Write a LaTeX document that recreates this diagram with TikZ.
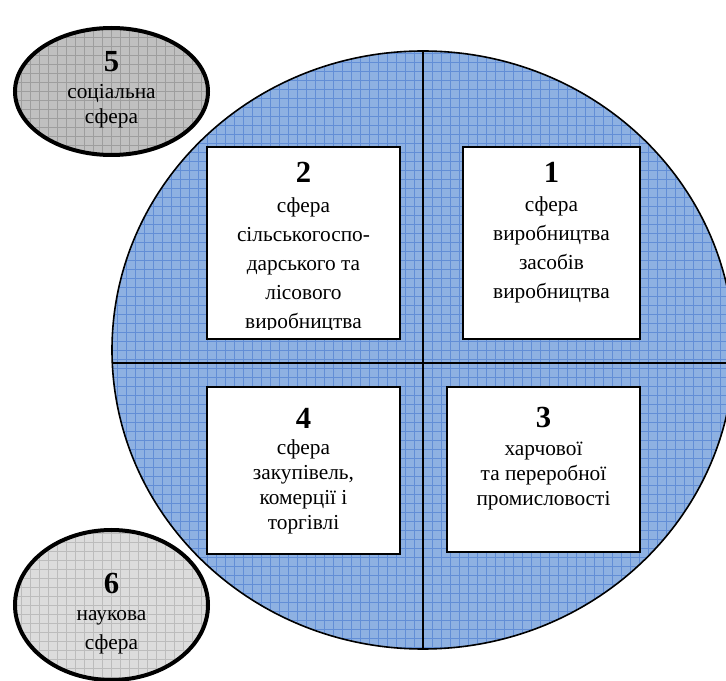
\documentclass[tikz,border=0pt]{standalone}
\usepackage{fontspec}
\setmainfont{Liberation Serif}
\usetikzlibrary{shapes.geometric}
\definecolor{sphfill}{RGB}{142,177,226}
\definecolor{sphgrid}{RGB}{98,142,214}
\definecolor{socfill}{RGB}{192,192,192}
\definecolor{socgrid}{RGB}{158,158,158}
\definecolor{scifill}{RGB}{220,220,220}
\definecolor{scigrid}{RGB}{188,188,188}
\tikzset{
  gridfill/.style={path picture={\draw[#1, line width=0.5pt, step=6.75pt]
      (path picture bounding box.south west) grid (path picture bounding box.north east);}},
  oval/.style={ellipse, draw, inner sep=0pt},
  sector/.style={rectangle, draw, line width=1.5pt, fill=white, inner sep=0pt},
  divline/.style={line width=1.2pt},
  numlbl/.style={font=\fontsize{23}{23}\selectfont\bfseries, inner sep=0pt},
  txt/.style={align=center, inner sep=0pt, font=\fontsize{16}{21.75}\selectfont},
  txtnarrow/.style={txt, font=\fontsize{16}{18.75}\selectfont}
}
\begin{document}
\begin{tikzpicture}[x=0.75pt, y=-0.75pt]
  \useasboundingbox (0,0) rectangle (726,681);
  \clip (0,0) rectangle (726,681);
  % big sphere, cut into four
  \node[oval, line width=1.2pt, fill=sphfill, gridfill=sphgrid,
        minimum width=466.5pt, minimum height=448.5pt] (sph) at (423,350) {};
  \draw[divline] (sph.north) -- (sph.south);
  \coordinate (hl) at (112.3,363);
  \coordinate (hr) at (733.7,363);
  \draw[divline] (hl) -- (hr);
  % outer spheres
  \node[oval, line width=3pt, fill=socfill, gridfill=socgrid,
        minimum width=144.75pt, minimum height=95.25pt] (e5) at (111.5,91.5) {};
  \node[oval, line width=3pt, fill=scifill, gridfill=scigrid,
        minimum width=144.75pt, minimum height=112.5pt] (e6) at (111.5,605) {};
  % the four boxes
  \node[sector, minimum width=132.75pt, minimum height=144pt] (b1) at (551.5,243) {};
  \node[sector, minimum width=144.75pt, minimum height=144pt] (b2) at (303.5,243) {};
  \node[sector, minimum width=144.75pt, minimum height=123.75pt] (b3) at (543.5,469.5) {};
  \node[sector, minimum width=144.75pt, minimum height=125.25pt] (b4) at (303.5,470.5) {};
  % labels
  \node[numlbl] (n1) at (551.5,172) {1};
  \node[txt] (t1) at (551.5,249.5) {сфера\\виробництва\\засобів\\виробництва};
  \node[numlbl] (n2) at (303.5,172) {2};
  \begin{scope}
    \clip (207,147) rectangle (400,330);
    \node[txt] (t2) at (303.5,265) {сфера\\сільськогоспо-\\дарського та\\лісового\\виробництва};
  \end{scope}
  \node[numlbl] (n3) at (543.5,417) {3};
  \node[txtnarrow] (t3) at (543.5,476) {харчової\\та переробної\\промисловості};
  \node[numlbl] (n4) at (303.5,418) {4};
  \node[txtnarrow] (t4) at (303.5,487) {сфера\\закупівель,\\комерції і\\торгівлі};
  \node[numlbl] (n5) at (111.5,62) {5};
  \begin{scope}
    \clip (15,28) rectangle (208,128);
    \node[txtnarrow] (t5) at (111.5,106.5) {соціальна\\сфера};
  \end{scope}
  \node[numlbl] (n6) at (111.5,583) {6};
  \node[txt] (t6) at (111.5,632) {наукова\\сфера};
\end{tikzpicture}
\end{document}
